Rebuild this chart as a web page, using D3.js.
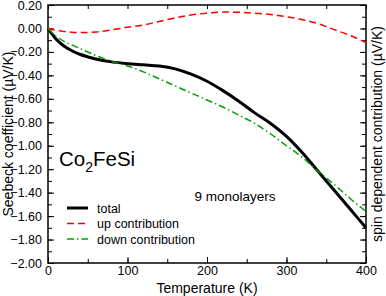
<!DOCTYPE html>
<html>
<head>
<meta charset="utf-8">
<script src="https://cdn.jsdelivr.net/npm/d3@7"></script>
<style>
  body { margin: 0; background: #fff; }
  text { font-family: "Liberation Sans", Arial, sans-serif; fill: #000; }
</style>
</head>
<body>
<div id="chart"></div>
<script>
var temps = [0, 10, 20, 30, 40, 60, 80, 100, 120, 140, 160, 180, 200, 220, 240, 260, 280, 300, 320, 340, 360, 380, 400];
var total = [0, -0.09, -0.15, -0.19, -0.22, -0.26, -0.285, -0.30, -0.31, -0.32, -0.345, -0.39, -0.45, -0.53, -0.62, -0.72, -0.81, -0.92, -1.06, -1.22, -1.38, -1.54, -1.70];
var upContrib = [0, -0.015, -0.025, -0.032, -0.035, -0.03, -0.012, 0.01, 0.03, 0.06, 0.09, 0.115, 0.13, 0.14, 0.138, 0.13, 0.12, 0.10, 0.075, 0.04, -0.01, -0.06, -0.12];
var downContrib = [0, -0.065, -0.11, -0.14, -0.17, -0.23, -0.28, -0.32, -0.37, -0.43, -0.49, -0.55, -0.61, -0.67, -0.74, -0.81, -0.90, -1.00, -1.10, -1.22, -1.33, -1.45, -1.56];
var yTicks = [0.2, 0, -0.2, -0.4, -0.6, -0.8, -1.0, -1.2, -1.4, -1.6, -1.8, -2.0];
var xTicks = [0, 100, 200, 300, 400];
var legendNames = ["total", "up contribution", "down contribution"];

var width = 386, height = 296;
var margin = {left: 48, right: 20, top: 5, bottom: 33};

var svg = d3.select("#chart").append("svg")
    .attr("width", width)
    .attr("height", height);

var x = d3.scaleLinear().domain([0, 400]).range([margin.left, width - margin.right]);
var y = d3.scaleLinear().domain([-2.0, 0.2]).range([height - margin.bottom, margin.top]);

// minor ticks
var xMinor = d3.range(0, 401, 50);
var yMinor = d3.range(-20, 3, 1).map(function(d) { return d / 10; });

svg.append("g")
    .attr("transform", `translate(0,${y(-2.0)})`)
    .call(d3.axisBottom(x).tickValues(xMinor).tickSize(-4).tickFormat(""));
svg.append("g")
    .attr("transform", `translate(0,${y(0.2)})`)
    .call(d3.axisTop(x).tickValues(xMinor).tickSize(-4).tickFormat(""));
svg.append("g")
    .attr("transform", `translate(${x(0)},0)`)
    .call(d3.axisLeft(y).tickValues(yMinor).tickSize(-4).tickFormat(""));
svg.append("g")
    .attr("transform", `translate(${x(400)},0)`)
    .call(d3.axisRight(y).tickValues(yMinor).tickSize(-4).tickFormat(""));

// major ticks with labels
svg.append("g")
    .attr("transform", `translate(0,${y(-2.0)})`)
    .call(d3.axisBottom(x).tickValues(xTicks).tickSize(-6).tickPadding(3).tickFormat(d3.format("d")));
svg.append("g")
    .attr("transform", `translate(${x(0)},0)`)
    .call(d3.axisLeft(y).tickValues(yTicks).tickSize(-6).tickPadding(6).tickFormat(d3.format(".2f")));
svg.append("g")
    .attr("transform", `translate(${x(400)},0)`)
    .call(d3.axisRight(y).tickValues(yTicks).tickSize(-6).tickFormat(""));

svg.selectAll(".tick text").style("font-size", "12.5px").style("font-family", "Liberation Sans, Arial, sans-serif");
svg.selectAll(".domain").remove();
svg.selectAll(".tick line").attr("stroke", "#000").attr("stroke-width", 1);

// frame
svg.append("rect")
    .attr("x", x(0)).attr("y", y(0.2))
    .attr("width", x(400) - x(0)).attr("height", y(-2.0) - y(0.2))
    .attr("fill", "none").attr("stroke", "#000").attr("stroke-width", 1.5);

var line = d3.line()
    .x(function(d) { return x(d[0]); })
    .y(function(d) { return y(d[1]); })
    .curve(d3.curveMonotoneX);

var series = [
  {values: total, color: "#000", width: 3, dash: null},
  {values: upContrib, color: "#ff0000", width: 1.5, dash: "7,4"},
  {values: downContrib, color: "#00a000", width: 1.5, dash: "7,3,1.5,3"}
];

series.forEach(function(s) {
  svg.append("path")
    .datum(temps.map(function(t, i) { return [t, s.values[i]]; }))
    .attr("d", line)
    .attr("fill", "none")
    .attr("stroke", s.color)
    .attr("stroke-width", s.width)
    .attr("stroke-dasharray", s.dash);
});

// legend
var legend = svg.append("g");
series.forEach(function(s, i) {
  var ly = 208 + i * 15.5;
  legend.append("line")
    .attr("x1", 67).attr("x2", 88).attr("y1", ly).attr("y2", ly)
    .attr("stroke", s.color).attr("stroke-width", s.width)
    .attr("stroke-dasharray", s.dash);
  legend.append("text")
    .attr("x", 97).attr("y", ly + 4.5)
    .style("font-size", "12.5px")
    .text(legendNames[i]);
});

svg.append("text")
    .attr("x", 235).attr("y", 201)
    .attr("text-anchor", "middle")
    .style("font-size", "13.5px")
    .text("9 monolayers");

var comp = svg.append("text")
    .attr("x", 59).attr("y", 166)
    .style("font-size", "20.5px");
comp.append("tspan").text("Co");
comp.append("tspan").attr("dy", 6).style("font-size", "14px").text("2");
comp.append("tspan").attr("dy", -6).text("FeSi");

svg.append("text")
    .attr("x", (x(0) + x(400)) / 2).attr("y", 293)
    .attr("text-anchor", "middle")
    .style("font-size", "14px")
    .text("Temperature (K)");

svg.append("text")
    .attr("transform", `translate(12.5,${(y(0.2) + y(-2.0)) / 2}) rotate(-90)`)
    .attr("text-anchor", "middle")
    .style("font-size", "14px")
    .text("Seebeck coefficient (µV/K)");

svg.append("text")
    .attr("transform", `translate(382,${(y(0.2) + y(-2.0)) / 2}) rotate(-90)`)
    .attr("text-anchor", "middle")
    .style("font-size", "14px")
    .text("spin dependent contribution (µV/K)");
</script>
</body>
</html>
